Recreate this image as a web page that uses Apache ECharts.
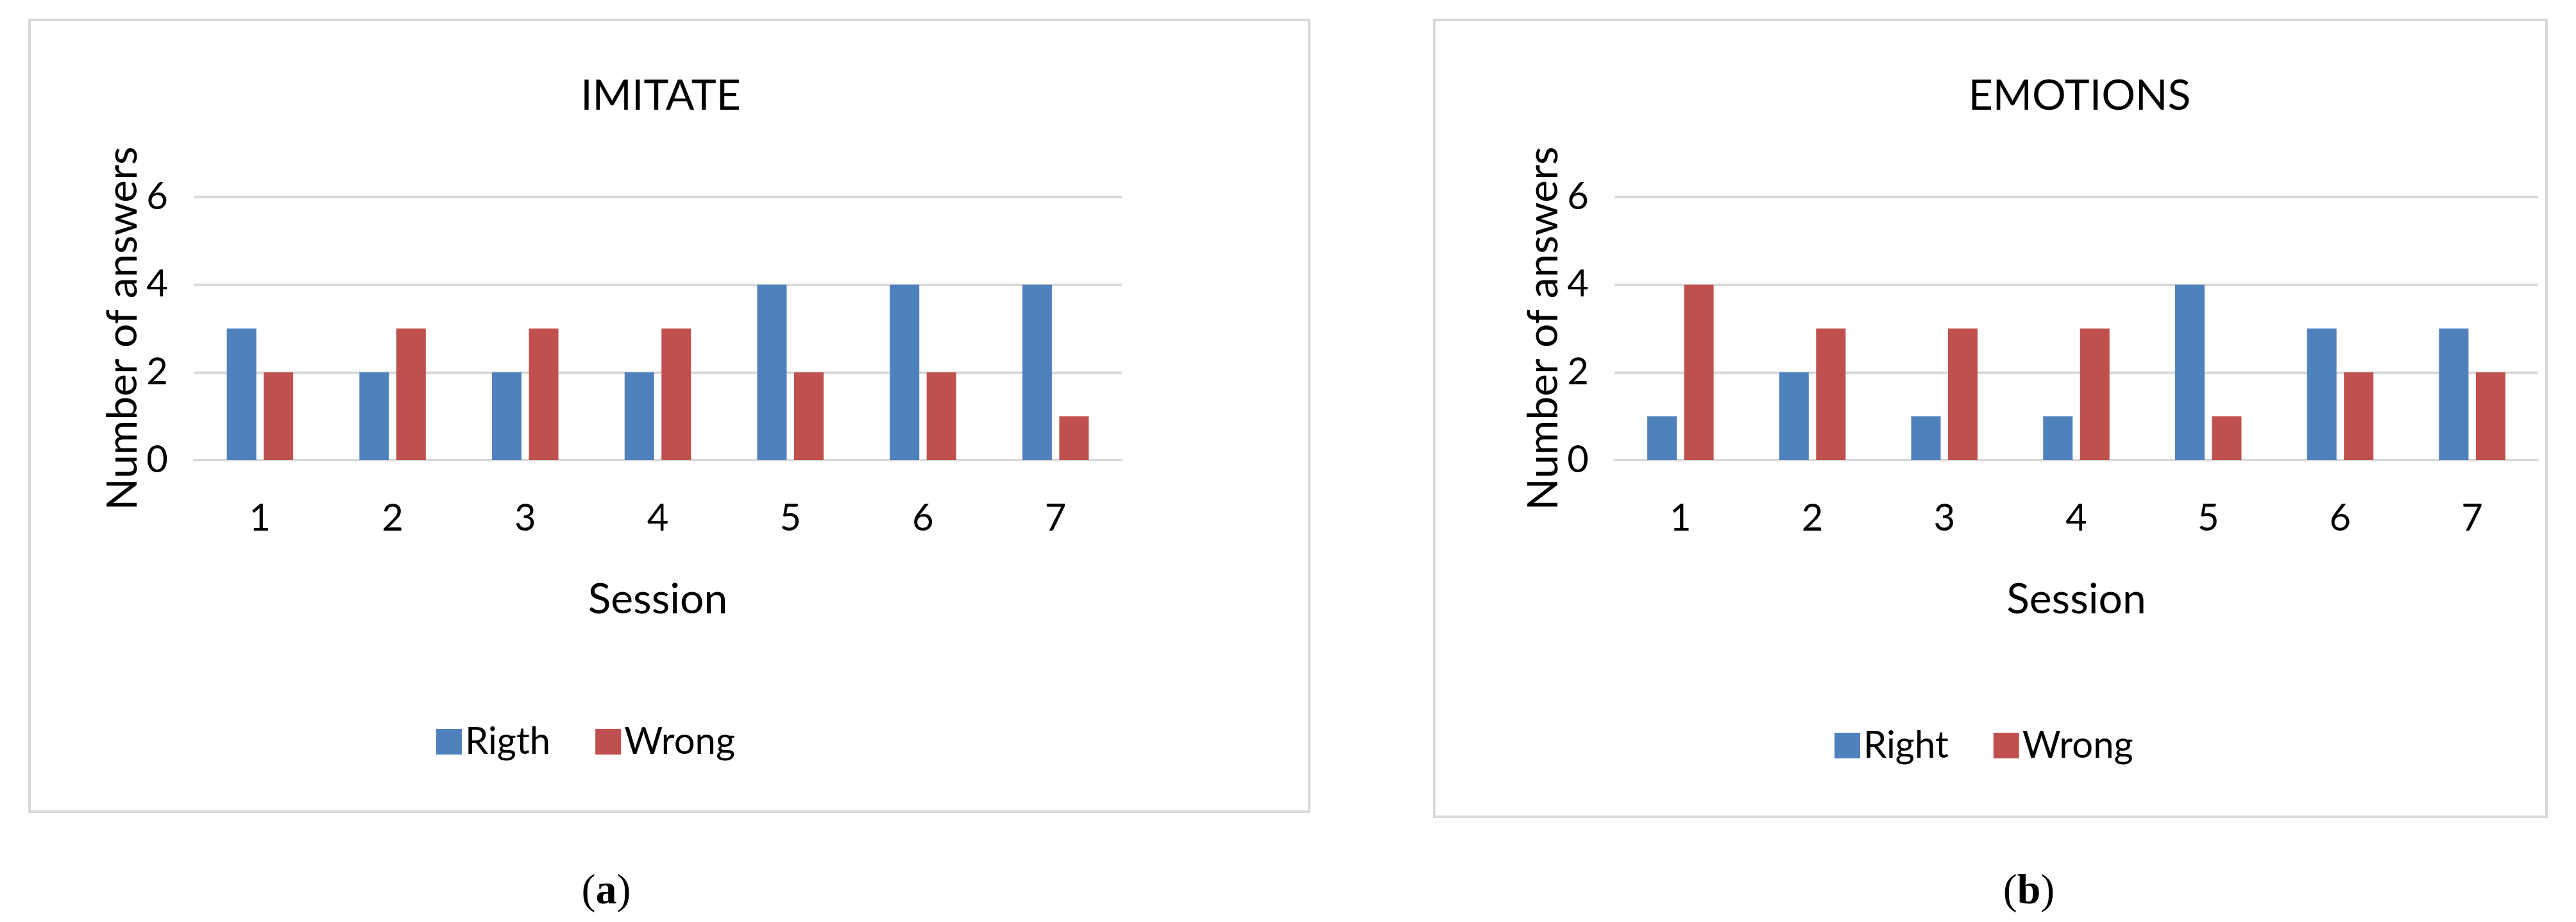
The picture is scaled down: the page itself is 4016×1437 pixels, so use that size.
<!DOCTYPE html>
<html><head><meta charset="utf-8">
<script src="https://cdn.jsdelivr.net/npm/echarts@6/dist/echarts.min.js"></script>
<style>html,body{margin:0;padding:0;background:#fff}#c{width:4016px;height:1437px}</style>
</head><body><div id="c"></div>
<script>
const sessions = ['1','2','3','4','5','6','7'];
const imitateRight = [3,2,2,2,4,4,4];
const imitateWrong = [2,3,3,3,2,2,1];
const emotionsRight = [1,2,1,1,4,3,3];
const emotionsWrong = [4,3,3,3,1,2,2];
const F = 'Lato';
const chart = echarts.init(document.getElementById('c'));
const blue = '#4F81BD', red = '#C0504D';
function xAx(i){return {type:'category',gridIndex:i,data:sessions,name:'Session',nameLocation:'middle',nameGap:185,
 nameTextStyle:{fontSize:66,fontFamily:F,color:'#000'},axisLine:{lineStyle:{color:'#d9d9d9',width:3}},axisTick:{show:false},
 axisLabel:{fontSize:58,fontFamily:F,color:'#000',margin:62}};}
function yAx(i){return {type:'value',gridIndex:i,min:0,max:6,interval:2,name:'Number of answers',nameLocation:'middle',nameGap:72,
 nameTextStyle:{fontSize:66,fontFamily:F,color:'#000'},axisLine:{show:false},axisTick:{show:false},
 axisLabel:{fontSize:58,fontFamily:F,color:'#000',margin:40},splitLine:{lineStyle:{color:'#d9d9d9',width:4}}};}
function bar(name,data,i,color){return {type:'bar',name:name,data:data,xAxisIndex:i,yAxisIndex:i,barWidth:46,barGap:'25%',itemStyle:{color:color}};}
chart.setOption({
 animation:false,
 title:[
  {text:'IMITATE',left:1025,top:112,textAlign:'center',textStyle:{fontSize:66,fontWeight:'normal',fontFamily:F,color:'#000'}},
  {text:'EMOTIONS',left:3237,top:112,textAlign:'center',textStyle:{fontSize:66,fontWeight:'normal',fontFamily:F,color:'#000'}}
 ],
 legend:[
  {data:['Rigth','Wrong'],top:1122,left:675,itemWidth:40,itemHeight:40,itemGap:70,textStyle:{fontSize:58,fontFamily:F,color:'#000'},icon:'rect'},
  {data:['Right','Wrong '],top:1128,left:2855,itemWidth:40,itemHeight:40,itemGap:70,textStyle:{fontSize:58,fontFamily:F,color:'#000'},icon:'rect'}
 ],
 grid:[{left:302,width:1447,top:307,height:410},{left:2517,width:1440,top:307,height:410}],
 xAxis:[xAx(0),xAx(1)],
 yAxis:[yAx(0),yAx(1)],
 series:[bar('Rigth',imitateRight,0,blue),bar('Wrong',imitateWrong,0,red),bar('Right',emotionsRight,1,blue),bar('Wrong ',emotionsWrong,1,red)],
 graphic:[
  {type:'rect',shape:{x:46,y:31,width:1995,height:1234},style:{fill:null,stroke:'#d9d9d9',lineWidth:4},z:-1},
  {type:'rect',shape:{x:2236,y:31,width:1734,height:1242},style:{fill:null,stroke:'#d9d9d9',lineWidth:4},z:-1},
  {type:'text',x:945,y:1391,style:{text:'({b|a})',fontSize:66,fontFamily:'Liberation Serif',fill:'#000',textAlign:'center',textVerticalAlign:'middle',rich:{b:{fontSize:66,fontWeight:'bold',fontFamily:'Liberation Serif'}}}},
  {type:'text',x:3163,y:1391,style:{text:'({b|b})',fontSize:66,fontFamily:'Liberation Serif',fill:'#000',textAlign:'center',textVerticalAlign:'middle',rich:{b:{fontSize:66,fontWeight:'bold',fontFamily:'Liberation Serif'}}}}
 ]
});
</script></body></html>
